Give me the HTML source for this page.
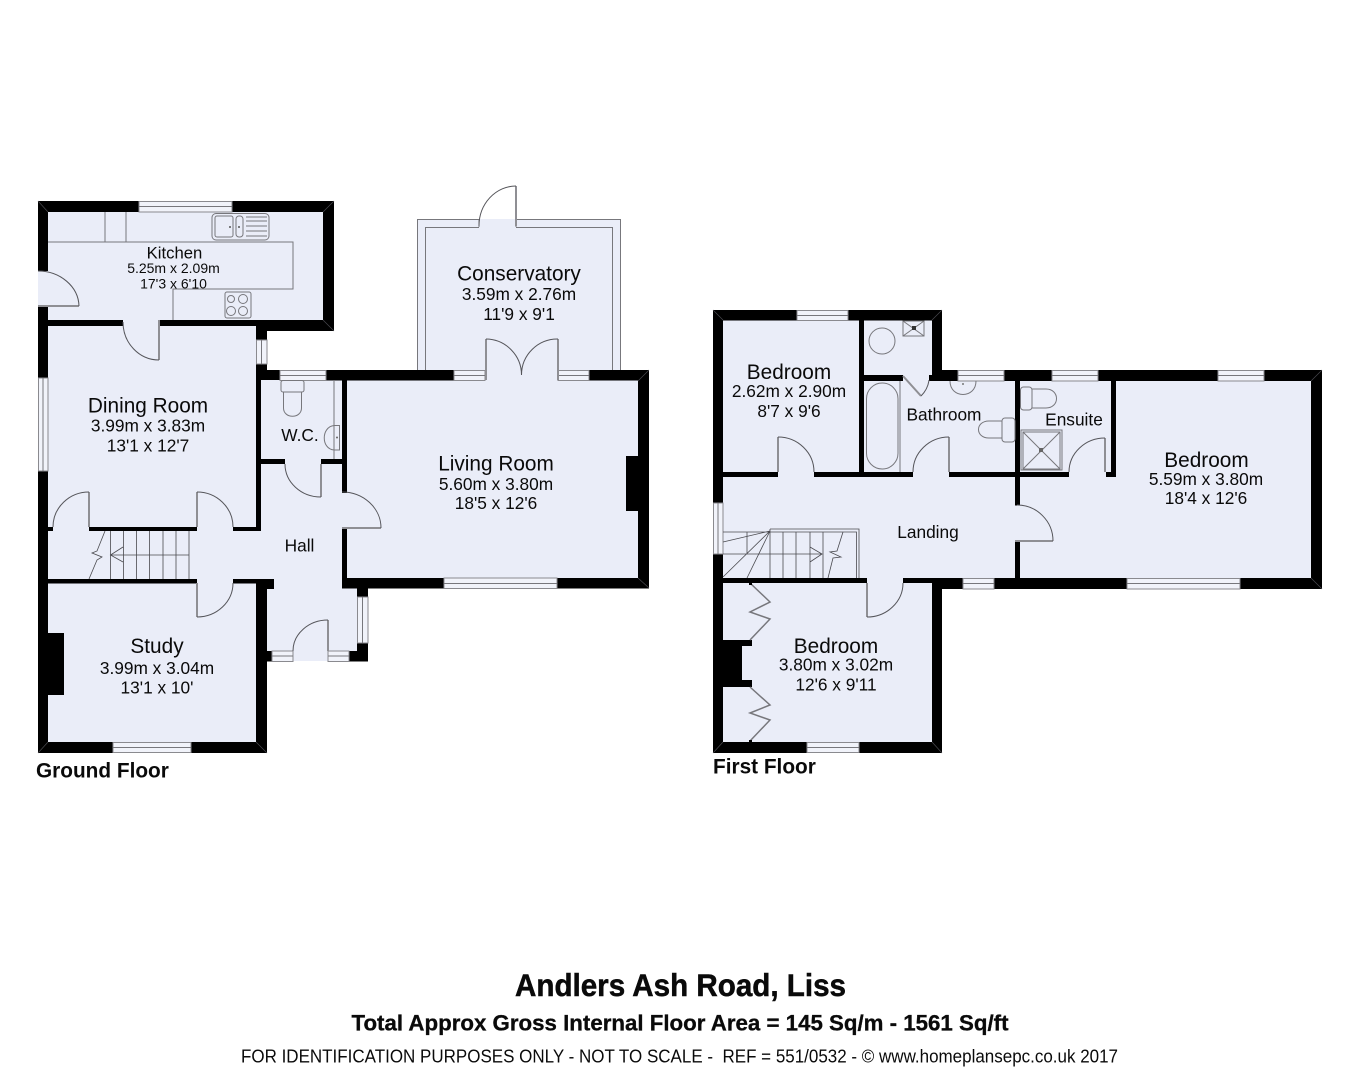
<!DOCTYPE html>
<html lang="en"><head><meta charset="utf-8"><title>Andlers Ash Road, Liss floor plan</title>
<style>
html,body{margin:0;padding:0;background:#fff}
svg{display:block;width:1359px;height:1080px}
text{font-family:"Liberation Sans",Arial,sans-serif;fill:#0a0a0a}
.f{fill:#eaedf8;stroke:none}
.w{fill:#000;stroke:none}
.g{fill:#f1f3fa;stroke:#8a8a8f;stroke-width:1}
.l{fill:none;stroke:#77777c;stroke-width:1}
.k{fill:none;stroke:#4a4a4f;stroke-width:.8}
.d{fill:none;stroke:#55555a;stroke-width:1}
.lf{fill:none;stroke:#8f8f94;stroke-width:2}
.a{font-size:20.8px;text-anchor:middle}
.b{font-size:17.3px;text-anchor:middle}
.c{font-size:14px;text-anchor:middle}
</style></head><body>
<svg xmlns="http://www.w3.org/2000/svg" width="1359" height="1080" viewBox="0 0 1359 1080">
<rect width="1359" height="1080" fill="#fff"/>

<!-- GROUND FLOOR fills -->
<rect class="f" x="38" y="201" width="296" height="130"/>
<rect class="f" x="38" y="326" width="229" height="426"/>
<rect class="f" x="261" y="370" width="107" height="291"/>
<rect class="f" x="342" y="370" width="307" height="218"/>
<rect class="f" x="417" y="219" width="204" height="152"/>

<!-- Conservatory frame -->
<path class="l" d="M417.500 371V219.500H479M516 219.500H620.500V371M425.500 371V227.500H479M516 227.500H612.500V371M479 219.500V227M516 219.500V227"/>

<!-- Ground walls -->
<g class="w">
<rect x="38" y="201" width="101" height="11"/>
<rect x="232" y="201" width="102" height="11"/>
<rect x="38" y="201" width="10" height="70"/>
<rect x="323" y="201" width="11" height="130"/>
<rect x="38" y="306" width="10" height="72"/>
<rect x="48" y="320" width="75" height="6"/>
<rect x="159" y="320" width="175" height="6"/>
<rect x="256" y="326" width="78" height="5"/>
<rect x="256" y="326" width="11" height="14"/>
<rect x="256" y="364" width="11" height="8"/>
<rect x="256" y="370" width="5" height="161"/>
<rect x="38" y="471" width="10" height="281"/>
<rect x="48" y="527" width="5" height="4"/>
<rect x="89" y="527" width="108" height="4"/>
<rect x="233" y="527" width="28" height="4"/>
<rect x="48" y="579" width="149" height="4.500"/>
<rect x="233" y="579" width="41" height="4.500"/>
<rect x="256" y="579" width="18" height="10"/>
<rect x="256" y="583" width="11" height="169"/>
<rect x="38" y="742" width="75" height="11"/>
<rect x="191" y="742" width="76" height="11"/>
<rect x="48" y="633" width="16" height="62"/>
<rect x="261" y="370" width="19" height="10"/>
<rect x="326" y="370" width="128" height="10.500"/>
<rect x="261" y="459" width="24" height="5"/>
<rect x="321" y="459" width="21" height="5"/>
<rect x="342" y="380" width="5" height="113"/>
<rect x="342" y="528" width="5" height="60"/>
<rect x="589" y="370" width="60" height="10.500"/>
<rect x="638" y="370" width="11" height="218"/>
<rect x="626" y="456" width="12" height="55"/>
<rect x="342" y="578" width="102" height="10.500"/>
<rect x="557" y="578" width="92" height="10.500"/>
<rect x="357" y="588" width="11" height="9"/>
<rect x="357" y="643" width="11" height="18.500"/>
<rect x="349" y="651" width="19" height="10.500"/>
<rect x="267" y="651" width="5" height="10.500"/>
</g>

<!-- Ground windows -->
<g>
<rect class="g" x="139" y="201.500" width="93" height="10.500"/><path class="l" d="M139 206.500H232"/>
<rect class="g" x="256.500" y="340" width="10.500" height="24"/><path class="l" d="M261.500 340V364"/>
<rect class="g" x="38.500" y="378" width="9.500" height="93"/><path class="l" d="M43 378V471"/>
<rect class="g" x="280" y="370.500" width="46" height="10"/><path class="l" d="M280 375.500H326"/>
<rect class="g" x="454" y="370.500" width="31" height="10"/><path class="l" d="M454 375.500H485"/>
<rect class="g" x="558" y="370.500" width="31" height="10"/><path class="l" d="M558 375.500H589"/>
<rect class="g" x="444" y="578" width="113" height="10.500"/><path class="l" d="M444 583.500H557"/>
<rect class="g" x="113" y="742.500" width="78" height="10"/><path class="l" d="M113 747.500H191"/>
<rect class="g" x="357.500" y="597" width="10.500" height="46"/><path class="l" d="M362.500 597V643"/>
<rect class="g" x="272" y="651" width="21" height="10.500"/><path class="l" d="M272 656H293"/>
<rect class="g" x="328" y="651" width="21" height="10.500"/><path class="l" d="M328 656H349"/>
</g>

<!-- Ground doors -->
<g>
<path class="lf" d="M38 306H79M159 320V360M89 527V492M197 527V492M197 583V617M321 464V497M328 651V620M342 528H381M486 380V339M558 380V339M516 226V186"/>
<path class="d" d="M38 271A41 36 0 0 1 79 306M123 322A36 38 0 0 0 159 360M89 492A36 35 0 0 0 53 527M197 492A36 35 0 0 1 233 527M197 617A36 34 0 0 0 233 583M285 464A36 33 0 0 0 321 497M328 620A35 31 0 0 0 293 651M342 492A39 36 0 0 1 381 528M486 339A36 36 0 0 1 521.500 375M558 339A36 36 0 0 0 521.500 375M516 186A37 40 0 0 0 479 226"/>
</g>

<!-- Ground fixtures -->
<g>
<path class="l" d="M48 242H293V289H173V320M105 212V242M126 212V242"/>
<rect class="l" x="212" y="213.500" width="57" height="26.500" rx="4"/>
<rect class="l" x="215" y="216" width="18" height="21" rx="2"/>
<rect class="l" x="236" y="216" width="7" height="21" rx="3"/>
<path class="l" d="M246 217H267M246 221H267M246 226H267M246 231H267M246 236H267"/>
<circle cx="230" cy="227" r="1" fill="#555"/><circle cx="239" cy="227" r="1" fill="#555"/>
<rect class="l" x="225" y="292" width="26" height="26" rx="2"/>
<circle class="l" cx="231" cy="299" r="3.500"/><circle class="l" cx="243" cy="299" r="4.500"/>
<circle class="l" cx="231" cy="311" r="4.500"/><circle class="l" cx="243" cy="311" r="4.500"/>
<path class="k" d="M110.500 531V579M123.500 531V579M136.500 531V579M149.500 531V579M163 531V579M176 531V579M189 531V579M110.500 555H189M123 547L110.500 555L123 562M105 531L97 551L92 553L102 557L97 560L89 579"/>
<rect class="l" x="281" y="380.500" width="23" height="11.500" rx="2"/>
<path class="l" d="M283.500 392V408C283.500 419 301.500 419 301.500 408V392"/>
<path class="l" d="M334 380V459M339.500 425.500H334C321 427 321 449 334 450H339.500V425.500Z"/>
<circle cx="337" cy="437.500" r="1" fill="#666"/>
</g>

<!-- FIRST FLOOR fills -->
<rect class="f" x="713" y="310" width="229" height="443"/>
<rect class="f" x="932" y="370" width="390" height="219"/>

<!-- First walls -->
<g class="w">
<rect x="713" y="310" width="84" height="10.500"/>
<rect x="848" y="310" width="94" height="10.500"/>
<rect x="713" y="310" width="10" height="193"/>
<rect x="713" y="554" width="10" height="199"/>
<rect x="859" y="320" width="5" height="157"/>
<rect x="932" y="310" width="10" height="71"/>
<rect x="864" y="375" width="39" height="6"/>
<rect x="929" y="375" width="13" height="6"/>
<rect x="932" y="370" width="26" height="11"/>
<rect x="1004" y="370" width="48" height="11"/>
<rect x="1098" y="370" width="120" height="11"/>
<rect x="1264" y="370" width="58" height="11"/>
<rect x="1311" y="370" width="11" height="219"/>
<rect x="723" y="472" width="55" height="5"/>
<rect x="814" y="472" width="99" height="5"/>
<rect x="949" y="472" width="120" height="5"/>
<rect x="1106" y="472" width="10" height="5"/>
<rect x="1015" y="381" width="5" height="124.500"/>
<rect x="1015" y="541" width="5" height="38"/>
<rect x="1111" y="381" width="5" height="96"/>
<rect x="723" y="578" width="144" height="5"/>
<rect x="903" y="578" width="60" height="5"/>
<rect x="932" y="578" width="31" height="11"/>
<rect x="994" y="578" width="133" height="11"/>
<rect x="1240" y="578" width="82" height="11"/>
<rect x="932" y="583" width="10" height="170"/>
<rect x="713" y="742" width="94" height="11"/>
<rect x="859" y="742" width="83" height="11"/>
<rect x="723" y="645" width="19" height="35"/>
<rect x="723" y="640" width="29" height="6"/>
<rect x="723" y="680" width="29" height="7"/>
</g>

<!-- Mitred wall corners -->
<path fill="none" stroke="#4a4a4f" stroke-width=".7" d="M38 201L48 212M334 201L323 212M334 331L323 320M38 753L48 742M267 753L256 742M649 370L638 381M649 588L638 578M713 310L723 320M942 310L932 320M713 753L723 742M942 753L932 742M1322 370L1311 381M1322 589L1311 578"/>

<!-- First windows -->
<g>
<rect class="g" x="797" y="310.500" width="51" height="10"/><path class="l" d="M797 315.500H848"/>
<rect class="g" x="958" y="370.500" width="46" height="10.500"/><path class="l" d="M958 375.500H1004"/>
<rect class="g" x="1052" y="370.500" width="46" height="10.500"/><path class="l" d="M1052 375.500H1098"/>
<rect class="g" x="1218" y="370.500" width="46" height="10.500"/><path class="l" d="M1218 375.500H1264"/>
<rect class="g" x="713.500" y="503" width="9.500" height="51"/><path class="l" d="M718 503V554"/>
<rect class="g" x="963" y="578.500" width="31" height="10.500"/><path class="l" d="M963 583.500H994"/>
<rect class="g" x="1127" y="578.500" width="113" height="10.500"/><path class="l" d="M1127 583.500H1240"/>
<rect class="g" x="807" y="742.500" width="52" height="10"/><path class="l" d="M807 747.500H859"/>
</g>

<!-- First doors and fixtures -->
<g>
<path class="lf" d="M778 472V437M949 472V437M903 376L921 396M1105 472V438M1015 541H1053M867 583V617"/>
<path class="d" d="M778 437A36 35 0 0 1 814 472M949 437A36 35 0 0 0 913 472M921 396Q928 389 929 380M1105 438A36 34 0 0 0 1069 472M1017 505A36 36 0 0 1 1053 541M867 617A36 34 0 0 0 903 583"/>
<path class="lf" style="stroke-width:1.500;stroke:#77777c" d="M750 583L770 602L750 612L770 619L750 640M750 687L770 705L750 713L770 720L750 741"/>
<rect x="749" y="582" width="3" height="3" fill="#000"/><rect x="749" y="740" width="3" height="3" fill="#000"/>
<path class="k" d="M770 529H859V578M770 532H856.500V578M770 529V578M783 532V578M796 532V578M810 532V578M823 532V578M723 532H770M747 532V554M723 554H822M810 547L822 554L810 562M843 532L837 551L830 552L841 557L833 558L828 578M770 531L723 542M770 531L723 577M770 531L747 578"/>
<circle class="l" cx="882" cy="341" r="13"/>
<rect class="l" x="903" y="321" width="21" height="15"/>
<path class="l" d="M903 321L924 336M924 321L903 336"/>
<rect x="912" y="326" width="4" height="4" fill="#333"/>
<path class="l" d="M900 381V472"/>
<rect class="l" x="866.500" y="383" width="31.500" height="86" rx="15.700"/>
<path class="l" d="M950 381C950 399 976 399 976 381"/>
<circle cx="963" cy="384" r="1" fill="#777"/>
<rect class="l" x="1002" y="418" width="13" height="24" rx="3"/>
<path class="l" d="M1002 421H989C975 421 975 438 989 438H1002"/>
<rect class="l" x="1020.500" y="387" width="11.500" height="23" rx="3"/>
<path class="l" d="M1032 389H1046C1060 389 1060 408 1046 408H1032"/>
<rect class="l" x="1021" y="430" width="41" height="40"/>
<rect class="l" x="1023" y="432" width="37" height="37"/>
<path class="l" d="M1023 432L1060 469M1060 432L1023 469"/>
<rect x="1039" y="448" width="4" height="4" fill="#666"/>
</g>

<!-- Labels -->
<text x="174.500" y="258.500" style="font-size:16.700px;text-anchor:middle">Kitchen</text>
<text class="c" x="173.500" y="273">5.25m x 2.09m</text>
<text class="c" x="173.500" y="288.500">17'3 x 6'10</text>

<text class="a" x="148" y="412.500">Dining Room</text>
<text class="b" x="148" y="431.500">3.99m x 3.83m</text>
<text class="b" x="148" y="451.500">13'1 x 12'7</text>

<text class="b" x="300" y="441">W.C.</text>
<text class="b" x="299.500" y="551.500">Hall</text>

<text class="a" x="157" y="653">Study</text>
<text class="b" x="157" y="674">3.99m x 3.04m</text>
<text class="b" x="157" y="693.500">13'1 x 10'</text>

<text class="a" x="519" y="280.500">Conservatory</text>
<text class="b" x="519" y="300">3.59m x 2.76m</text>
<text class="b" x="519" y="320">11'9 x 9'1</text>

<text class="a" x="496" y="470.500">Living Room</text>
<text class="b" x="496" y="490">5.60m x 3.80m</text>
<text class="b" x="496" y="509">18'5 x 12'6</text>

<text class="a" x="789" y="379">Bedroom</text>
<text class="b" x="789" y="397">2.62m x 2.90m</text>
<text class="b" x="789" y="417">8'7 x 9'6</text>

<text class="b" x="944" y="420.500">Bathroom</text>
<text class="b" x="928" y="538">Landing</text>
<text class="b" x="1074" y="425.500">Ensuite</text>

<text class="a" x="1206.500" y="467">Bedroom</text>
<text class="b" x="1206" y="485">5.59m x 3.80m</text>
<text class="b" x="1206" y="504">18'4 x 12'6</text>

<text class="a" x="836" y="653">Bedroom</text>
<text class="b" x="836" y="670.500">3.80m x 3.02m</text>
<text class="b" x="836" y="690.500">12'6 x 9'11</text>

<text x="36" y="777.500" style="font-size:20.800px;font-weight:bold">Ground Floor</text>
<text x="713" y="773.500" style="font-size:20.800px;font-weight:bold">First Floor</text>

<!-- Title block -->
<text x="515" y="996" textLength="331" lengthAdjust="spacingAndGlyphs" style="font-size:31.500px;font-weight:bold;stroke:#0a0a0a;stroke-width:.5">Andlers Ash Road, Liss</text>
<text x="351.500" y="1030.500" textLength="657" lengthAdjust="spacingAndGlyphs" style="font-size:22px;font-weight:bold;stroke:#0a0a0a;stroke-width:.3">Total Approx Gross Internal Floor Area = 145 Sq/m - 1561 Sq/ft</text>
<text x="241" y="1062.500" textLength="877" lengthAdjust="spacingAndGlyphs" style="font-size:18px">FOR IDENTIFICATION PURPOSES ONLY - NOT TO SCALE - &#160;REF = 551/0532 - © www.homeplansepc.co.uk 2017</text>
</svg>
</body></html>
